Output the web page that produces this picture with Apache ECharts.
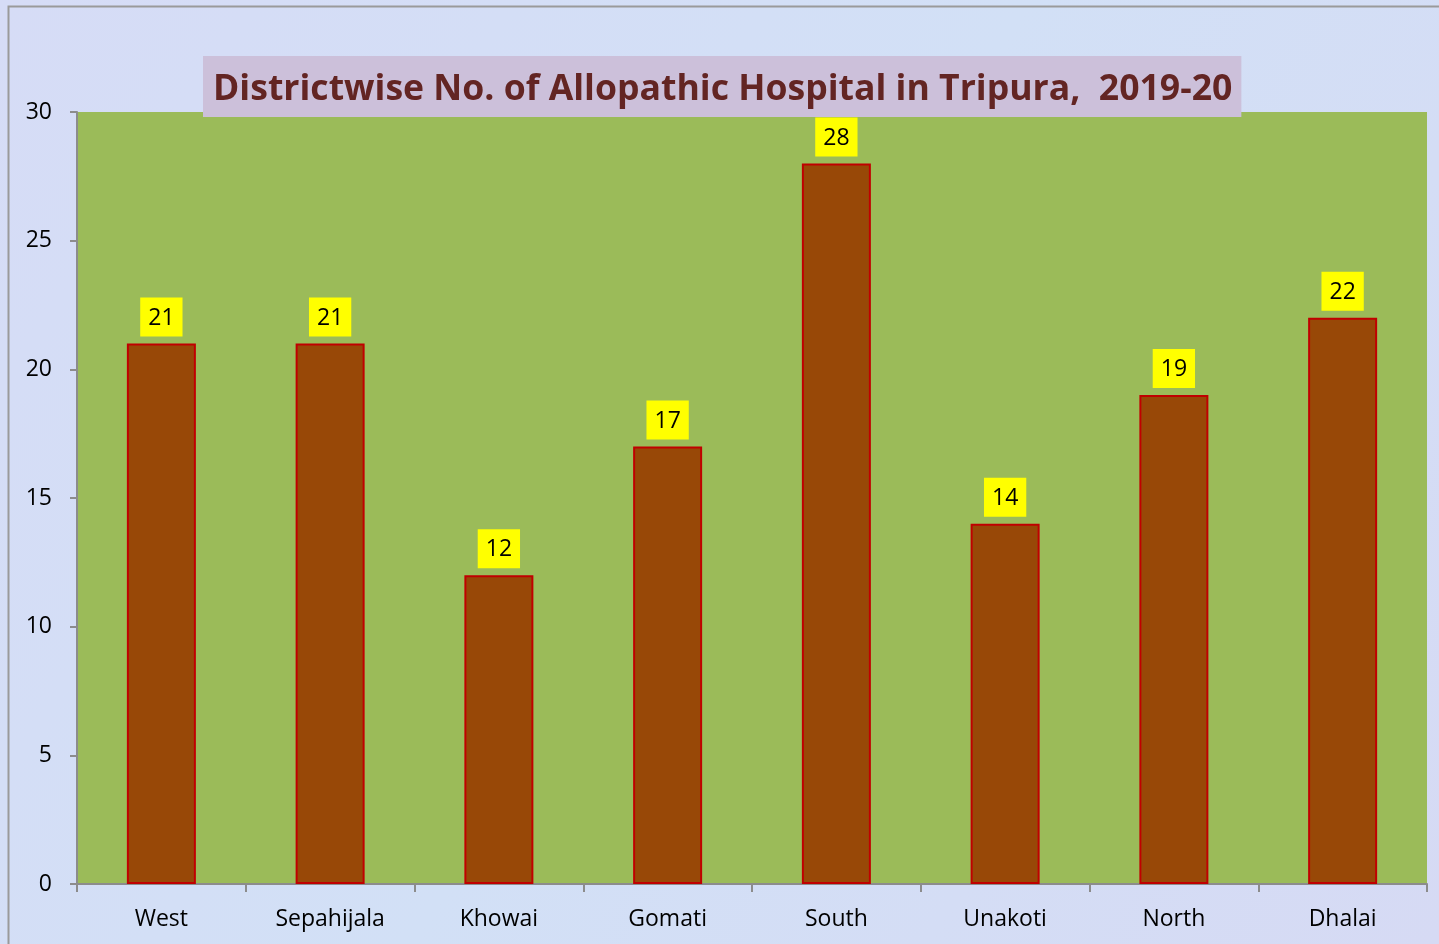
<!DOCTYPE html>
<html>
<head>
<meta charset="utf-8">
<title>Districtwise No. of Allopathic Hospital in Tripura</title>
<script src="https://cdn.jsdelivr.net/npm/echarts@6/dist/echarts.min.js"></script>
<style>
  html, body { margin: 0; padding: 0; }
  #chart { width: 1439px; height: 944px; }
</style>
</head>
<body>
<div id="chart"></div>
<script>
const districts = ['West', 'Sepahijala', 'Khowai', 'Gomati', 'South', 'Unakoti', 'North', 'Dhalai'];
const hospitals = [21, 21, 12, 17, 28, 14, 19, 22];
const yTicks = [0, 5, 10, 15, 20, 25, 30];

const chart = echarts.init(document.getElementById('chart'));
const fontFamily = '"Open Sans", "Noto Sans", sans-serif';

const option = {
  backgroundColor: {
    type: 'linear', x: 0, y: 0, x2: 1, y2: 1,
    colorStops: [
      { offset: 0, color: '#d6dcf6' },
      { offset: 0.5, color: '#d2e0f6' },
      { offset: 1, color: '#d6daf4' }
    ]
  },
  title: {
    text: 'Districtwise No. of Allopathic Hospital in Tripura,  2019-20',
    left: 203,
    top: 56,
    padding: [16, 9, 9, 10],
    backgroundColor: '#ccc0da',
    z: 10,
    textStyle: {
      fontFamily: fontFamily,
      fontSize: 35.6,
      fontWeight: 'bold',
      color: '#632523'
    }
  },
  graphic: [{
    type: 'rect',
    shape: { x: 8.5, y: 6.5, width: 1440, height: 950 },
    style: { fill: 'none', stroke: '#9a9a9a', lineWidth: 2 },
    silent: true
  }],
  grid: {
    left: 77,
    right: 12,
    top: 112,
    bottom: 60,
    show: true,
    backgroundColor: '#9bbb59',
    borderWidth: 0
  },
  xAxis: {
    type: 'category',
    data: districts,
    axisLine: { lineStyle: { color: '#8c8c8c', width: 2 } },
    axisTick: { show: true, length: 8, alignWithLabel: false, lineStyle: { color: '#8c8c8c', width: 2 } },
    axisLabel: { color: '#000', fontFamily: fontFamily, fontSize: 23, margin: 24 }
  },
  yAxis: {
    type: 'value',
    min: 0,
    max: 30,
    interval: 5,
    axisLine: { show: true, lineStyle: { color: '#8c8c8c', width: 2 } },
    axisTick: { show: true, length: 7, lineStyle: { color: '#8c8c8c', width: 2 } },
    axisLabel: {
      color: '#000', fontFamily: fontFamily, fontSize: 23, margin: 25,
      formatter: v => (yTicks.includes(v) ? String(v) : '')
    },
    splitLine: { show: false }
  },
  series: [{
    type: 'bar',
    data: hospitals,
    barWidth: 69,
    itemStyle: { color: '#984807', borderColor: '#c00000', borderWidth: 2 },
    label: {
      show: true,
      position: 'top',
      distance: 7,
      color: '#000',
      fontFamily: fontFamily,
      fontSize: 23,
      backgroundColor: '#ffff00',
      padding: [9, 8, 7, 8]
    }
  }]
};

chart.setOption(option);
</script>
</body>
</html>
